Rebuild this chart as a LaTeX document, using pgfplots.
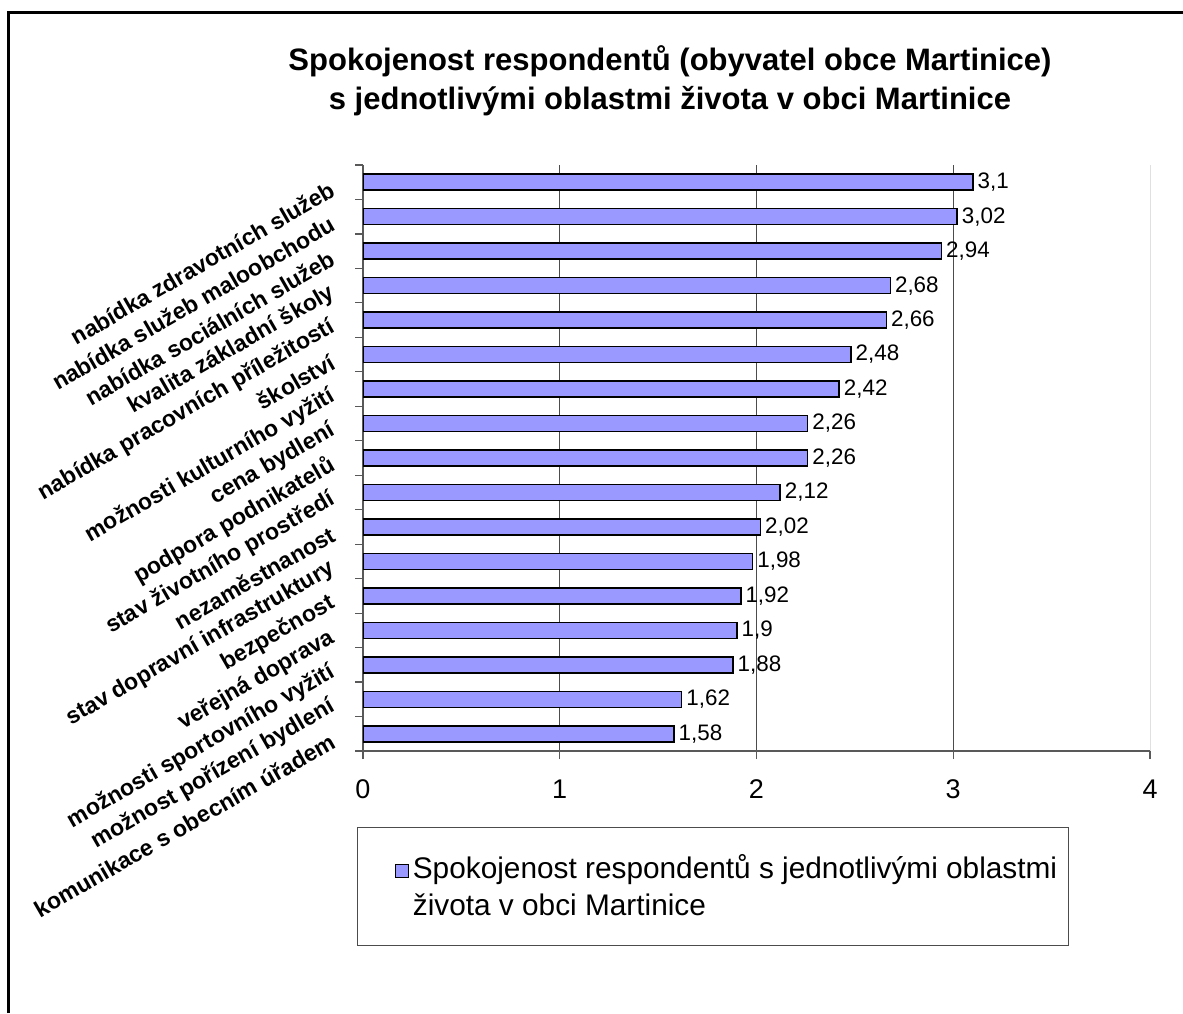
\documentclass[border=0pt]{standalone}
\usepackage{fontspec}
\setmainfont{Liberation Sans}
\usepackage{pgfplots}
\pgfplotsset{compat=1.18}
\definecolor{barfill}{HTML}{9999FF}

\begin{document}
\begin{tikzpicture}
% 1 px of the reference = 0.5pt, origin at the top-left corner
\useasboundingbox (0pt,0pt) rectangle (591.5pt,-506.5pt);
\draw[line width=1.5pt] (4pt,-506.5pt) -- (4pt,-6pt) -- (591.5pt,-6pt);
\node[font=\bfseries\fontsize{15.5}{18}\selectfont] at (335pt,-30.5pt) {Spokojenost respondentů (obyvatel obce Martinice)};
\node[font=\bfseries\fontsize{15.5}{18}\selectfont] at (335pt,-50.5pt) {s jednotlivými oblastmi života v obci Martinice};

\begin{axis}[
  at={(181.5pt,-375.5pt)}, anchor=south west,
  scale only axis, width=393.5pt, height=293pt,
  xbar, bar width=8pt,
  xmin=0, xmax=4,
  ymin=0.5, ymax=17.5,
  axis x line*=bottom, axis y line*=left,
  axis line style={black!65, line width=0.6pt},
  /pgf/number format/assume math mode=true,
  /pgf/number format/use comma,
  tick align=outside,
  major tick length=4pt,
  xtick={0,1,2,3},
  extra x ticks={4},
  extra x tick style={grid style={black!12}},
  xmajorgrids,
  grid style={black!70, line width=0.5pt},
  xticklabel style={font=\fontsize{13.5}{16}\selectfont, yshift=-7pt},
  tick style={black!65, line width=0.6pt},
  ytick={0.5,1.5,...,17.5},
  yticklabels={},
  extra y ticks={1,...,17},
  extra y tick labels={komunikace s obecním úřadem, možnost pořízení bydlení, možnosti sportovního vyžití, veřejná doprava, bezpečnost, stav dopravní infrastruktury, nezaměstnanost, stav životního prostředí, podpora podnikatelů, cena bydlení, možnosti kulturního vyžití, školství, nabídka pracovních příležitostí, kvalita základní školy, nabídka sociálních služeb, nabídka služeb maloobchodu, nabídka zdravotních služeb},
  extra y tick style={major tick length=0pt, yticklabel style={font=\bfseries\fontsize{11.5}{13}\selectfont, rotate=30, anchor=east, xshift=-11pt, yshift=5pt}},
  point meta=x,
  nodes near coords,
  nodes near coords style={font=\fontsize{11.2}{13}\selectfont, anchor=west, inner sep=2pt},
  legend style={at={(-0.0076,-0.1297)}, anchor=north west, draw=black!70, line width=0.6pt,
    font=\fontsize{14.9}{18.5}\selectfont, inner xsep=3.5pt, inner ysep=11.5pt, cells={align=left}},
  legend cell align=left,
  legend image code/.code={\path (-15pt,0pt); \draw[#1,draw=black,line width=0.5pt] (0pt,4.5pt) rectangle (6.5pt,11pt);},
]
\addplot[fill=barfill, draw=black, line width=0.75pt] coordinates {
  (3.1,17) (3.02,16) (2.94,15) (2.68,14) (2.66,13) (2.48,12) (2.42,11)
  (2.26,10) (2.26,9) (2.12,8) (2.02,7) (1.98,6) (1.92,5) (1.9,4)
  (1.88,3) (1.62,2) (1.58,1)
};
\addlegendentry{Spokojenost respondentů s jednotlivými oblastmi\\života v obci Martinice}
\end{axis}
\end{tikzpicture}
\end{document}
